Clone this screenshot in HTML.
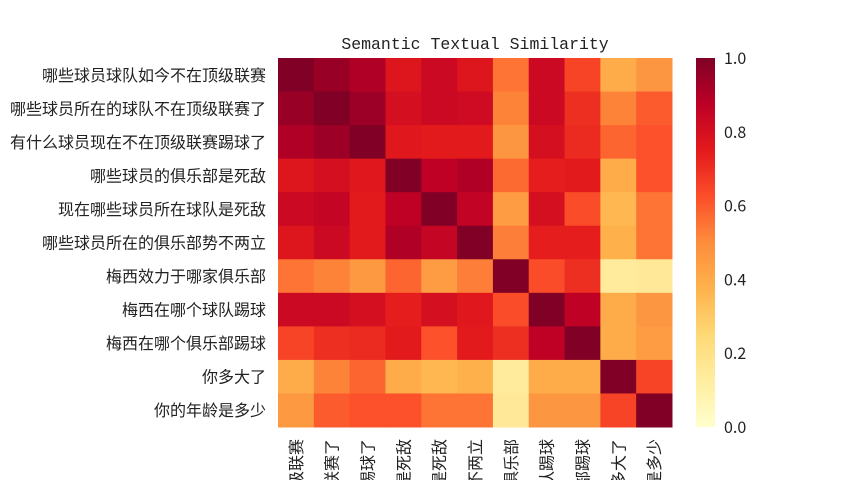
<!DOCTYPE html>
<html><head><meta charset="utf-8"><style>
html,body{margin:0;padding:0;background:#fff;overflow:hidden;width:856px;height:480px;}
svg{display:block;overflow:hidden;}
svg text{font-family:"Liberation Sans","Noto Sans CJK SC",sans-serif;fill:#222;}
</style></head><body>
<svg id="chart" width="856" height="480" viewBox="0 0 856 480" xmlns="http://www.w3.org/2000/svg">
<text x="475" y="49" text-anchor="middle" style="font-family:'Liberation Mono',monospace;font-size:16.5px">Semantic Textual Similarity</text>
<g id="cells"></g>
<g id="ylabels"></g>
<g id="xlabels"></g>
<defs><linearGradient id="cbg" x1="0" y1="1" x2="0" y2="0"></linearGradient></defs>
<rect x="696" y="58" width="19" height="369" fill="url(#cbg)"/>
<g id="cbticks"></g>
</svg>
<script>
const labels=["哪些球员球队如今不在顶级联赛","哪些球员所在的球队不在顶级联赛了","有什么球员现在不在顶级联赛踢球了","哪些球员的俱乐部是死敌","现在哪些球员所在球队是死敌","哪些球员所在的俱乐部势不两立","梅西效力于哪家俱乐部","梅西在哪个球队踢球","梅西在哪个俱乐部踢球","你多大了","你的年龄是多少"];
const values=[
[1,.95,.9,.77,.83,.77,.55,.83,.65,.4,.47],
[.95,1,.94,.8,.83,.82,.52,.83,.7,.52,.6],
[.9,.94,1,.76,.75,.75,.47,.8,.71,.58,.62],
[.77,.8,.76,1,.87,.9,.57,.74,.75,.4,.62],
[.83,.85,.75,.87,1,.86,.45,.8,.63,.36,.55],
[.77,.83,.75,.9,.85,1,.53,.74,.74,.38,.55],
[.55,.52,.46,.58,.45,.53,1,.63,.7,.14,.15],
[.83,.83,.8,.74,.8,.76,.63,1,.87,.4,.47],
[.65,.7,.71,.75,.62,.75,.7,.87,1,.4,.45],
[.4,.52,.58,.4,.36,.38,.14,.4,.4,1,.65],
[.46,.6,.62,.62,.55,.55,.15,.47,.47,.65,1]];
const cbTicks=[0,0.2,0.4,0.6,0.8,1.0];
const stops=["#ffffcc","#ffeda0","#fed976","#feb24c","#fd8d3c","#fc4e2a","#e31a1c","#bd0026","#800026"];
function hex(h){return [1,3,5].map(i=>parseInt(h.substr(i,2),16));}
function cmap(v){v=Math.max(0,Math.min(1,v));const t=v*8,i=Math.min(7,Math.floor(t)),f=t-i;const a=hex(stops[i]),b=hex(stops[i+1]);return "rgb("+a.map((c,k)=>Math.round(c+(b[k]-c)*f)).join(",")+")";}
const X0=278,X1=672,Y0=58,Y1=427,n=labels.length;
const cw=(X1-X0)/n,ch=(Y1-Y0)/n;
const xs=j=>X0+j*cw, ys=i=>Y0+i*ch;
const NS="http://www.w3.org/2000/svg";
const FONT='"Noto Sans CJK SC","WenQuanYi Zen Hei",sans-serif';
const cells=document.getElementById('cells');
values.forEach((row,i)=>row.forEach((v,j)=>{
 const r=document.createElementNS(NS,'rect');
 r.setAttribute('x',xs(j));r.setAttribute('y',ys(i));
 r.setAttribute('width',cw+0.5);r.setAttribute('height',ch+0.5);
 r.setAttribute('fill',cmap(v));
 
 
 cells.appendChild(r);
}));
const yl=document.getElementById('ylabels'),xl=document.getElementById('xlabels');
labels.forEach((s,i)=>{
 const t=document.createElementNS(NS,'text');
 t.setAttribute('x',266);t.setAttribute('y',ys(i)+ch/2+6);
 t.setAttribute('text-anchor','end');t.setAttribute('font-size','16');
 t.style.fontFamily=FONT;
 t.textContent=s;
 
 
 yl.appendChild(t);
 const u=document.createElementNS(NS,'text');
 const cx=xs(i)+cw/2+6;
 u.setAttribute('transform','translate('+cx+',439) rotate(-90)');
 u.setAttribute('text-anchor','end');u.setAttribute('font-size','16');
 u.style.fontFamily=FONT;
 u.textContent=s;
 
 
 xl.appendChild(u);
});
const g=document.getElementById('cbg');
stops.forEach((c,k)=>{const s=document.createElementNS(NS,'stop');s.setAttribute('offset',k/8);s.setAttribute('stop-color',c);g.appendChild(s);});
const cb=document.getElementById('cbticks');
cbTicks.forEach(v=>{
 const t=document.createElementNS(NS,'text');
 t.setAttribute('x',724);t.setAttribute('y',Y1-v*(Y1-Y0)+6);
 t.setAttribute('font-size','16');
 t.style.fontFamily=FONT;
 t.textContent=v.toFixed(1);
 
 
 cb.appendChild(t);
});
</script>
</body></html>
